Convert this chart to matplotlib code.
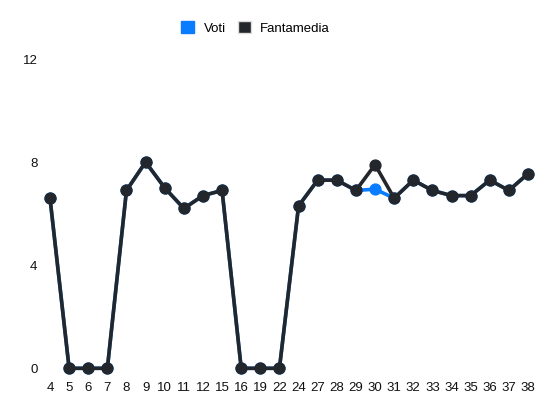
import matplotlib.pyplot as plt
from matplotlib.patches import Patch
import numpy as np

plt.rcParams['font.family'] = ['Liberation Sans', 'DejaVu Sans']

giornate = ['4', '5', '6', '7', '8', '9', '10', '11', '12', '15', '16', '19', '22',
            '24', '27', '28', '29', '30', '31', '32', '33', '34', '35', '36', '37', '38']
fantamedia = [6.6, 0, 0, 0, 6.9, 8.0, 7.0, 6.2, 6.7, 6.9, 0, 0, 0,
              6.3, 7.3, 7.3, 6.9, 7.9, 6.6, 7.3, 6.9, 6.7, 6.7, 7.3, 6.9, 7.55]
voti = [6.6, 0, 0, 0, 6.9, 8.0, 7.0, 6.2, 6.7, 6.9, 0, 0, 0,
        6.3, 7.3, 7.3, 6.9, 6.95, 6.6, 7.3, 6.9, 6.7, 6.7, 7.3, 6.9, 7.55]

blu = '#0a7cff'
scuro = '#23272b'

fig = plt.figure(figsize=(5.5, 4.12), dpi=100)
ax = fig.add_axes([50/550, 1 - 368.3/412, 478/550, 309.3/412])

x = np.arange(len(giornate))
ax.plot(x, voti, color=blu, linewidth=2.6, marker='o', markersize=7.8, clip_on=False, zorder=3)
ax.plot(x, fantamedia, color=scuro, linewidth=2.6, marker='o', markersize=7.8, clip_on=False, zorder=4)

ax.set_xlim(0, len(giornate) - 1)
ax.set_ylim(0, 12)
ax.set_xticks(x)
ax.set_xticklabels(giornate)
ax.set_yticks([0, 4, 8, 12])
for s in ax.spines.values():
    s.set_visible(False)
ax.tick_params(axis='x', length=0, pad=10, labelsize=9.5, colors='#111111')
ax.tick_params(axis='y', length=0, pad=9, labelsize=9.5, colors='#111111')

handles = [Patch(facecolor=blu, edgecolor=blu, label='Voti'),
           Patch(facecolor=scuro, edgecolor='#dddddd', label='Fantamedia')]
fig.legend(handles=handles, loc='center', bbox_to_anchor=(255.5/550, 1 - 28/412),
           ncol=2, frameon=False, fontsize=9.5, handlelength=1.0, handleheight=1.0,
           handletextpad=0.7, columnspacing=0.9)

fig.savefig('out.png', dpi=100)
